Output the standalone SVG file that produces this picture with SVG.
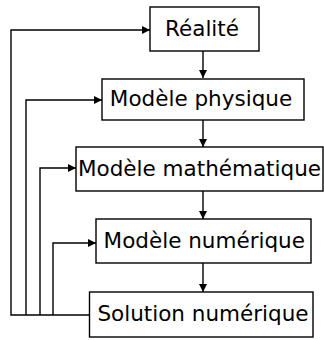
<svg xmlns="http://www.w3.org/2000/svg" width="324" height="340" viewBox="0 0 324 340">
<style>
.box{fill:#fff;stroke:#000;stroke-width:1.4}
.lbl{font-family:"DejaVu Sans",sans-serif;font-size:21.5px;fill:#000;text-anchor:middle}
.c{fill:none;stroke:#000;stroke-width:1.4}
</style>
<defs>
<marker id="ah" viewBox="0 0 10 10" refX="10" refY="5" markerWidth="8" markerHeight="8" markerUnits="userSpaceOnUse" orient="auto">
<path d="M0,0 L10,5 L0,10 Z" fill="#000"/>
</marker>
</defs>
<rect width="324" height="340" fill="#fff"/>
<g id="connectors">
<line class="c" x1="203" y1="51" x2="203" y2="78" marker-end="url(#ah)"/>
<line class="c" x1="203" y1="120" x2="203" y2="147" marker-end="url(#ah)"/>
<line class="c" x1="203" y1="191" x2="203" y2="219" marker-end="url(#ah)"/>
<line class="c" x1="203" y1="263" x2="203" y2="292" marker-end="url(#ah)"/>
<polyline class="c" points="89,315 11,315 11,30 150,30" marker-end="url(#ah)"/>
<polyline class="c" points="26,315 26,100 102,100" marker-end="url(#ah)"/>
<polyline class="c" points="40,315 40,168 76,168" marker-end="url(#ah)"/>
<polyline class="c" points="53,315 53,243 96,243" marker-end="url(#ah)"/>
</g>
<g id="realite">
<rect class="box" x="150" y="7" width="109" height="44"/>
<text class="lbl" x="202" y="36">Réalité</text>
</g>
<g id="modele-physique">
<rect class="box" x="102" y="79" width="202" height="41"/>
<text class="lbl" x="201" y="106">Modèle physique</text>
</g>
<g id="modele-mathematique">
<rect class="box" x="76" y="147" width="247" height="44"/>
<text class="lbl" x="199.5" y="176">Modèle mathématique</text>
</g>
<g id="modele-numerique">
<rect class="box" x="96" y="219" width="215" height="44"/>
<text class="lbl" x="204.3" y="248">Modèle numérique</text>
</g>
<g id="solution-numerique">
<rect class="box" x="89.5" y="292" width="223.5" height="45"/>
<text class="lbl" x="203" y="321">Solution numérique</text>
</g>
</svg>
